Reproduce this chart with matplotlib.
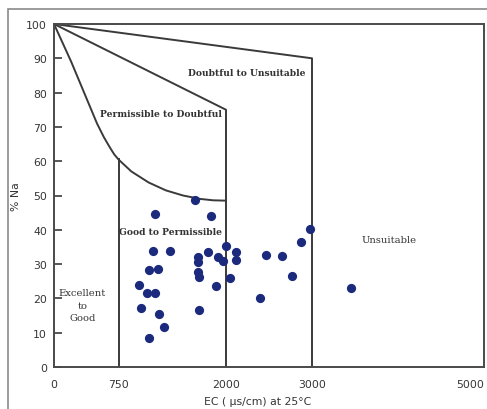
import matplotlib
matplotlib.use("Agg")
import matplotlib.pyplot as plt
from matplotlib.patches import Rectangle

# Wilcox diagram: EC vs % Na
ec = [1641, 1170, 1825, 1154, 1349, 1669, 1669, 1786, 1903, 1961, 2000, 2121,
      2121, 2047, 1883, 1669, 1688, 1688, 1103, 1209, 994, 1084, 1170, 1006,
      1220, 1279, 1107, 2464, 2651, 2869, 2975, 2768, 2401, 3450]
na = [48.7, 44.5, 43.9, 33.9, 33.9, 32.2, 30.7, 33.6, 32.2, 31.0, 35.2, 33.4,
      31.2, 25.9, 23.5, 27.6, 26.1, 16.7, 28.4, 28.6, 24.0, 21.5, 21.7, 17.2,
      15.4, 11.8, 8.4, 32.7, 32.4, 36.5, 40.2, 26.4, 20.2, 22.9]

# class boundaries
doubtful_x = [0, 3000, 3000]
doubtful_y = [100, 90, 0]
permissible_x = [0, 2000, 2000]
permissible_y = [100, 75, 0]
good_curve_x = [0, 100, 200, 300, 400, 500, 580, 650, 700, 750, 900, 1100, 1300, 1500, 1700, 1850, 2000]
good_curve_y = [100, 94.5, 89, 83, 77, 71, 67, 64, 62, 60.5, 57, 53.8, 51.5, 50, 49, 48.6, 48.5]
excellent_x = [750, 750]
excellent_y = [0, 60.5]

xticks = [0, 750, 2000, 3000, 5000]
yticks = list(range(0, 101, 10))

# (text, x, y, bold)
labels = [("Doubtful to Unsuitable", 2240, 86, True),
          ("Permissible to Doubtful", 1240, 74, True),
          ("Good to Permissible", 1360, 39.5, True),
          ("Excellent\nto\nGood", 330, 18, False),
          ("Unsuitable", 3900, 37.3, False)]

fig = plt.figure(figsize=(4.87, 4.10), dpi=100)
ax = fig.add_axes([54 / 487, 42 / 410, 430 / 487, 343 / 410])

# outer chart border (top and left visible)
fig.patches.append(Rectangle((8 / 487, -0.2), 1.2, 1.2 - 10 / 410, transform=fig.transFigure,
                             fill=False, edgecolor="#8a8a8a", linewidth=1.2))

line_kw = dict(color="#3a3a3a", linewidth=1.4)
ax.plot(doubtful_x, doubtful_y, **line_kw)
ax.plot(permissible_x, permissible_y, **line_kw)
ax.plot(good_curve_x, good_curve_y, **line_kw)
ax.plot(excellent_x, excellent_y, **line_kw)

ax.scatter(ec, na, s=44, color="#1b2a7c", zorder=3, linewidths=0)

for txt, x, y, bold in labels:
    ax.text(x, y, txt, ha="center", va="center", fontsize=6.6 if bold else 7.2,
            fontweight="bold" if bold else "normal",
            family="DejaVu Serif", color="#333333", linespacing=1.5)

ax.set_xlim(0, 5000)
ax.set_ylim(0, 100)
ax.set_xticks(xticks)
ax.set_xticklabels([str(t) for t in xticks])
ax.set_yticks(yticks)
ax.tick_params(axis="x", length=0, pad=9, labelsize=7.8, labelcolor="#353535")
ax.tick_params(axis="y", direction="in", length=6, width=1.2, color="#3a3a3a",
               pad=5, labelsize=7.8, labelcolor="#353535")
ax.get_xticklabels()[-1].set_ha("right")

for s in ax.spines.values():
    s.set_color("#4a4a4a")
    s.set_linewidth(1.4)

ax.set_xlabel("EC ( µs/cm) at 25°C", fontsize=7.8, color="#353535")
ax.xaxis.set_label_coords(0.473, -0.085)
ax.set_ylabel("% Na", fontsize=7.8, color="#353535", labelpad=4)

fig.savefig("out.png", dpi=100)
